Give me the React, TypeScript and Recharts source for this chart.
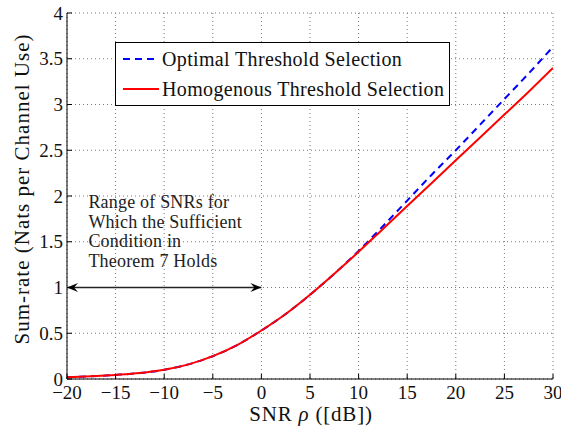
import React from 'react';
import { LineChart, Line, XAxis, YAxis, CartesianGrid, ReferenceLine, ReferenceDot, Legend } from 'recharts';

// SNR in dB and the two sum-rate curves (nats per channel use)
const snrDb = [-20, -17.5, -15, -12.5, -10, -7.5, -5, -2.5, 0, 2.5, 5, 7.5, 10, 12.5, 15, 17.5, 20, 22.5, 25, 27.5, 30];
const optimalRate = [0.02, 0.03, 0.045, 0.065, 0.1, 0.16, 0.25, 0.37, 0.53, 0.71, 0.92, 1.15, 1.4, 1.67, 1.95, 2.23, 2.5, 2.78, 3.06, 3.34, 3.63];
const homogenousRate = [0.02, 0.03, 0.045, 0.065, 0.1, 0.16, 0.25, 0.37, 0.53, 0.71, 0.92, 1.15, 1.39, 1.64, 1.89, 2.14, 2.39, 2.64, 2.89, 3.14, 3.4];

const xTicks = [-20, -15, -10, -5, 0, 5, 10, 15, 20, 25, 30];
const yTicks = [0, 0.5, 1, 1.5, 2, 2.5, 3, 3.5, 4];
const seriesNames = ['Optimal Threshold Selection', 'Homogenous Threshold Selection'];
const noteLines = ['Range of SNRs for', 'Which the Sufficient', 'Condition in', 'Theorem 7 Holds'];
const arrowRange = [-20, 0];
const arrowLevel = 1;

const data = snrDb.map((snr, i) => ({ snr, optimal: optimalRate[i], homogenous: homogenousRate[i] }));

const FONT = '"Liberation Serif", serif';
const fmt = (v: number) => (v < 0 ? '\u2212' + Math.abs(v) : String(v));

const BottomTick = (p: any) => {
  const base = p.y - (p.tickMargin || 0);
  return (
    <g>
      <line x1={p.x} y1={base} x2={p.x} y2={base - 5} stroke="#000" />
      <text x={p.x} y={base + 20} textAnchor="middle" fontFamily={FONT} fontSize={19} fill="#111">{fmt(p.payload.value)}</text>
    </g>
  );
};

const LeftTick = (p: any) => {
  const base = p.x + (p.tickMargin || 0);
  return (
    <g>
      <line x1={base} y1={p.y} x2={base + 5} y2={p.y} stroke="#000" />
      <text x={base - 4} y={p.y + 6.5} textAnchor="end" fontFamily={FONT} fontSize={19} fill="#111">{fmt(p.payload.value)}</text>
    </g>
  );
};

const TopTick = (p: any) => <line x1={p.x} y1={p.y} x2={p.x} y2={p.y + 5} stroke="#000" />;
const RightTick = (p: any) => <line x1={p.x} y1={p.y} x2={p.x - 5} y2={p.y} stroke="#000" />;

const Arrow = (p: any) => {
  const { x1, y1, x2 } = p;
  return (
    <g>
      <line x1={x1} y1={y1} x2={x2} y2={y1} stroke="#222" strokeWidth={1.4} />
      <polygon points={`${x1},${y1} ${x1 + 11},${y1 - 4.5} ${x1 + 7},${y1} ${x1 + 11},${y1 + 4.5}`} fill="#000" />
      <polygon points={`${x2},${y1} ${x2 - 11},${y1 - 4.5} ${x2 - 7},${y1} ${x2 - 11},${y1 + 4.5}`} fill="#000" />
    </g>
  );
};

const Note = (p: any) => (
  <text x={p.cx} y={p.cy} fontFamily={FONT} fontSize={18} letterSpacing={0.2} fill="#222">
    {noteLines.map((t, i) => (
      <tspan key={i} x={p.cx} dy={i === 0 ? 0 : 19.7}>{t}</tspan>
    ))}
  </text>
);

const LegendBox = () => (
  <div style={{ width: 335, height: 64, boxSizing: 'border-box', border: '1px solid #000', background: '#fff', fontFamily: FONT, fontSize: 20, letterSpacing: 0.35, color: '#111', paddingTop: 1, overflow: 'hidden' }}>
    {seriesNames.map((name, i) => (
      <div key={name} style={{ display: 'flex', alignItems: 'center', height: 30 }}>
        <svg width={40} height={10} style={{ marginLeft: 6, flexShrink: 0 }}>
          <line x1={1} y1={5} x2={37} y2={5} stroke={i === 0 ? '#0000ff' : '#ff0000'} strokeWidth={2} strokeDasharray={i === 0 ? '7 5' : undefined} />
        </svg>
        <span style={{ whiteSpace: 'nowrap' }}>{name}</span>
      </div>
    ))}
  </div>
);

export default function App() {
  return (
    <div style={{ position: 'absolute', left: 0, top: 0, width: 561, height: 427, background: '#fff' }}>
      <LineChart width={561} height={427} data={data} margin={{ top: 13, right: 8, left: 17, bottom: 18 }}>
        <CartesianGrid stroke="#777" strokeDasharray="1 3" horizontalValues={yTicks} verticalValues={xTicks} />
        <XAxis dataKey="snr" type="number" domain={[-20, 30]} ticks={xTicks} allowDataOverflow
          axisLine={{ stroke: '#000' }} tickLine={false} tickSize={0} tickMargin={0} height={30} tick={BottomTick} interval={0} />
        <XAxis xAxisId="top" orientation="top" type="number" domain={[-20, 30]} ticks={xTicks} allowDataOverflow
          axisLine={{ stroke: '#000' }} tickLine={false} tickSize={0} tickMargin={0} height={0} tick={TopTick} interval={0} />
        <YAxis type="number" domain={[0, 4]} ticks={yTicks} allowDataOverflow width={50}
          axisLine={{ stroke: '#000' }} tickLine={false} tickSize={0} tickMargin={0} tick={LeftTick} interval={0} />
        <YAxis yAxisId="right" orientation="right" type="number" domain={[0, 4]} ticks={yTicks} allowDataOverflow width={0}
          axisLine={{ stroke: '#000' }} tickLine={false} tickSize={0} tickMargin={0} tick={RightTick} interval={0} />
        <Line dataKey="optimal" name={seriesNames[0]} stroke="#0000ff" strokeWidth={2} strokeDasharray="7 5" dot={false} type="monotone" isAnimationActive={false} />
        <Line dataKey="homogenous" name={seriesNames[1]} stroke="#ff0000" strokeWidth={2} dot={false} type="monotone" isAnimationActive={false} />
        <ReferenceLine segment={[{ x: arrowRange[0], y: arrowLevel }, { x: arrowRange[1], y: arrowLevel }]} shape={Arrow} />
        <ReferenceDot x={-17.8} y={1.87} r={0} shape={Note} />
        <Legend content={LegendBox} layout="horizontal" verticalAlign="middle" align="center" wrapperStyle={{ left: 115, top: 42, width: 335 }} />
      </LineChart>
      <div style={{ position: 'absolute', left: 311, top: 414, transform: 'translate(-50%, -50%)', fontFamily: FONT, fontSize: 21, letterSpacing: 0.8, color: '#111', whiteSpace: 'nowrap', lineHeight: 1 }}>
        SNR <i>ρ</i> ([dB])
      </div>
      <div style={{ position: 'absolute', left: 22, top: 189, transform: 'translate(-50%, -50%) rotate(-90deg)', fontFamily: FONT, fontSize: 21, letterSpacing: 1, color: '#111', whiteSpace: 'nowrap', lineHeight: 1 }}>
        Sum-rate (Nats per Channel Use)
      </div>
    </div>
  );
}
